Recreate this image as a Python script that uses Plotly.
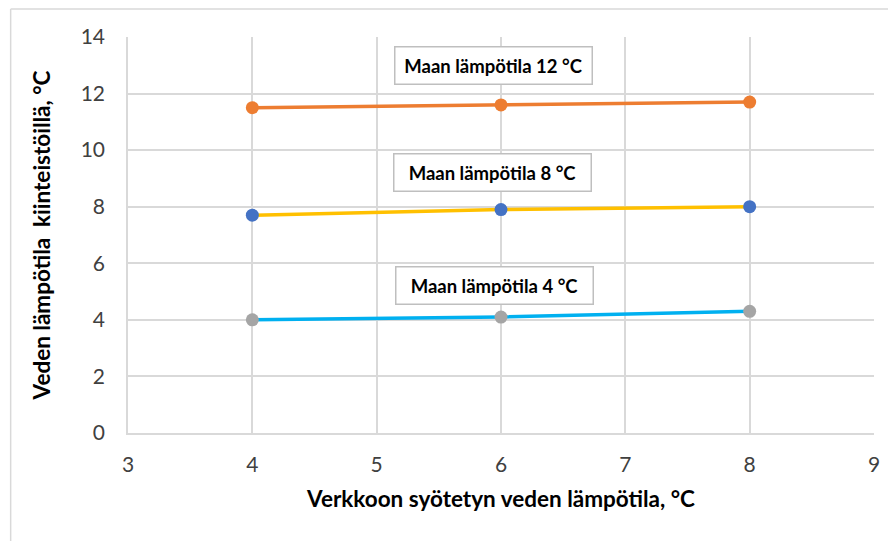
import plotly.graph_objects as go

x_vals = [4, 6, 8]
ground12 = [11.5, 11.6, 11.7]
ground8 = [7.7, 7.9, 8.0]
ground4 = [4.0, 4.1, 4.3]

labels = ["Maan lämpötila 12 °C", "Maan lämpötila 8 °C", "Maan lämpötila 4 °C"]
label_x = [5.94, 5.93, 5.95]
label_y = [13.0, 9.2, 5.2]

x_ticks = [3, 4, 5, 6, 7, 8, 9]
y_ticks = [0, 2, 4, 6, 8, 10, 12, 14]

FONT = "Lato, Carlito, Calibri, sans-serif"

fig = go.Figure()
series = [
    (ground12, "#ED7D31", "#ED7D31"),
    (ground8, "#FFC000", "#4472C4"),
    (ground4, "#00B0F0", "#A5A5A5"),
]
for ys, lc, mc in series:
    fig.add_trace(go.Scatter(
        x=x_vals, y=ys, mode="lines+markers",
        line=dict(color=lc, width=3.5),
        marker=dict(color=mc, size=13),
        showlegend=False,
    ))

for t, xx, yy in zip(labels, label_x, label_y):
    fig.add_annotation(
        x=xx, y=yy, xref="x", yref="y", text="<b>" + t + "</b>",
        showarrow=False, bgcolor="white", bordercolor="#BFBFBF", borderwidth=1.5,
        width=194, height=34, align="center",
        font=dict(family=FONT, size=18.5, color="black"),
    )

# page has an 8px body margin, so the figure is drawn 8px right and down
W, H = 888, 533
L, R, T, B = 119.5, 21.5, 29, 108
pw, ph = W - L - R, H - T - B

def px(xp):
    return (xp - L) / pw

def py(yp):
    return (H - B - yp) / ph

fig.add_shape(type="line", xref="paper", yref="paper",
              x0=px(2), x1=px(W), y0=py(1), y1=py(1),
              line=dict(color="#D9D9D9", width=1.5))
fig.add_shape(type="line", xref="paper", yref="paper",
              x0=px(2), x1=px(2), y0=py(1), y1=py(H),
              line=dict(color="#D9D9D9", width=1.5))

fig.update_layout(
    width=W, height=H,
    margin=dict(l=L, r=R, t=T, b=B),
    paper_bgcolor="white", plot_bgcolor="white",
    font=dict(family=FONT),
    xaxis=dict(
        range=[3, 9], tickvals=x_ticks, showgrid=True, gridcolor="#D9D9D9", gridwidth=1.5,
        zeroline=False, showline=True, linecolor="#D9D9D9", linewidth=1.5, mirror=False,
        ticks="outside", ticklen=12, tickcolor="rgba(0,0,0,0)",
        tickfont=dict(family=FONT, size=21, color="#404040"),
        title=dict(text="<b>Verkkoon syötetyn veden lämpötila, °C</b>",
                   font=dict(family=FONT, size=22.5, color="black"), standoff=16),
    ),
    yaxis=dict(
        range=[0, 14], tickvals=y_ticks, showgrid=True, gridcolor="#D9D9D9", gridwidth=1.5,
        zeroline=False, showline=True, linecolor="#D9D9D9", linewidth=1.5,
        ticks="outside", ticklen=17, tickcolor="rgba(0,0,0,0)",
        tickfont=dict(family=FONT, size=21, color="#404040"),
        title=dict(text="<b>Veden lämpötila  kiinteistöillä, °C</b>",
                   font=dict(family=FONT, size=22.5, color="black"), standoff=24),
    ),
)

fig.write_html("out.html")
